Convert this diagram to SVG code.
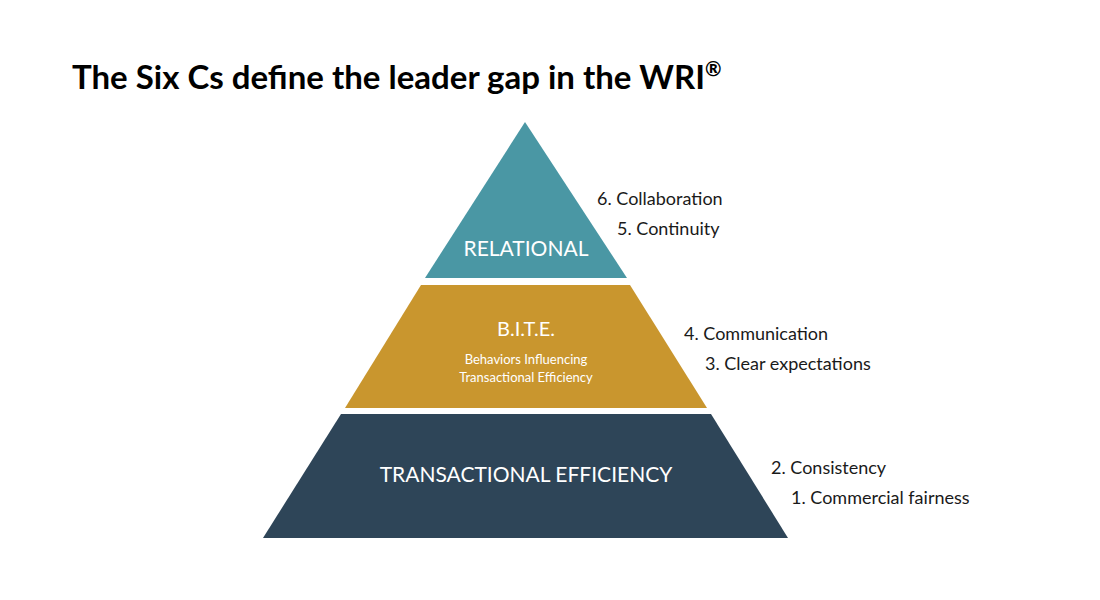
<svg xmlns="http://www.w3.org/2000/svg" width="1100" height="600" viewBox="0 0 1100 600">
<style>
.t{font-family:Lato,"Liberation Sans",sans-serif;fill:#1a1a1a;font-size:18px}
.w{font-family:Lato,"Liberation Sans",sans-serif;fill:#fff;text-anchor:middle}
</style>
<rect width="1100" height="600" fill="#fff"/>
<text x="72" y="89" font-family="Lato,'Liberation Sans',sans-serif" font-weight="bold" font-size="33" fill="#000">The Six Cs define the leader gap in the WRI<tspan font-size="20" dy="-13">®</tspan></text>
<g id="relational">
<polygon points="525,122 627,278 425,278" fill="#4A97A4"/>
<text class="w" x="526" y="256" font-size="21">RELATIONAL</text>
</g>
<g id="bite">
<polygon points="421,285 630,285 707,408 345,408" fill="#C9962E"/>
<text class="w" x="526" y="336" font-size="20">B.I.T.E.</text>
<text class="w" x="526" y="364" font-size="13">Behaviors Influencing</text>
<text class="w" x="526" y="382" font-size="13">Transactional Efficiency</text>
</g>
<g id="transactional">
<polygon points="341,414 711,414 788,538 263,538" fill="#2E4558"/>
<text class="w" x="526" y="482" font-size="21">TRANSACTIONAL EFFICIENCY</text>
</g>
<g id="labels">
<text class="t" x="597" y="205">6. Collaboration</text>
<text class="t" x="617" y="235">5. Continuity</text>
<text class="t" x="684" y="340">4. Communication</text>
<text class="t" x="705" y="370">3. Clear expectations</text>
<text class="t" x="771" y="474">2. Consistency</text>
<text class="t" x="791" y="504">1. Commercial fairness</text>
</g>
<g id="connectors"/>
</svg>
